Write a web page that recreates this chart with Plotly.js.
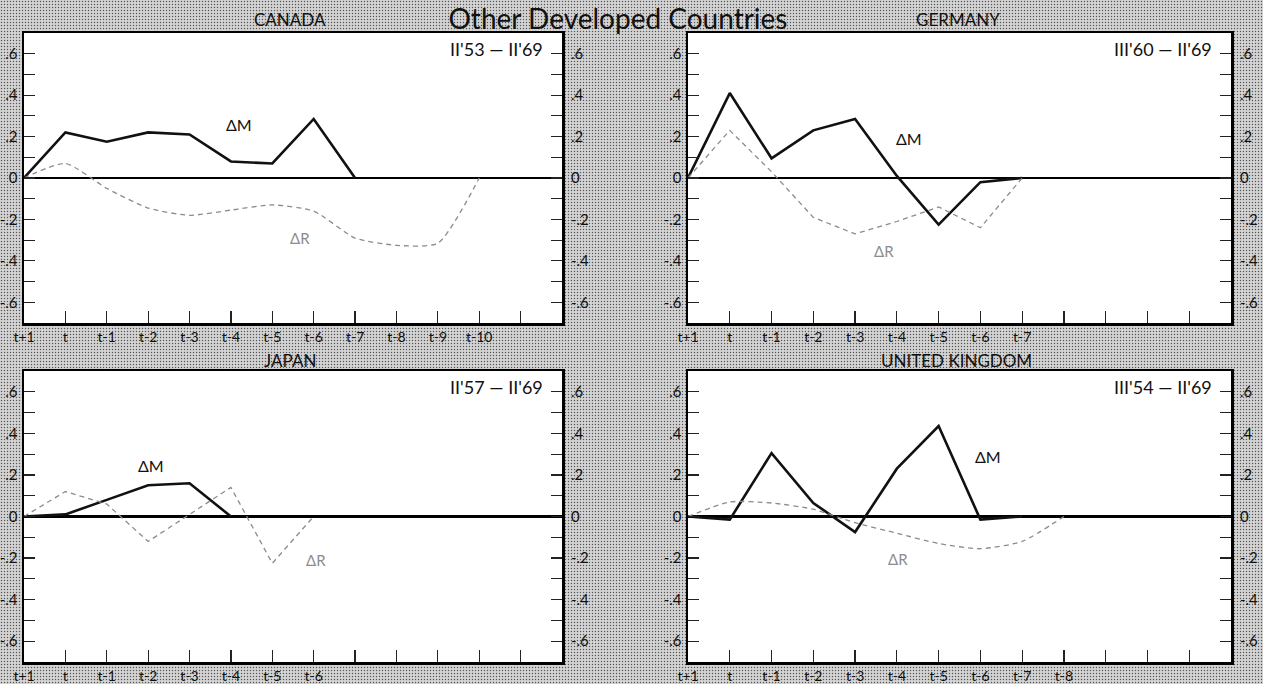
<!DOCTYPE html>
<html><head><meta charset="utf-8">
<script src="https://cdn.plot.ly/plotly-3.0.1.min.js"></script>
<style>
html,body{margin:0;padding:0;}
body{width:1263px;height:684px;overflow:hidden;background-color:#d4d4d4;background-image:radial-gradient(circle,#555 0.65px,transparent 1.05px);background-size:3px 3px;}
#chart{width:1263px;height:684px;}
</style></head><body><div id="chart"></div><script>
// ---- data ----
const chartTitle = 'Other Developed Countries';
const countries = ['CANADA', 'GERMANY', 'JAPAN', 'UNITED KINGDOM'];
const periods = ["II'53 — II'69", "III'60 — II'69", "II'57 — II'69", "III'54 — II'69"];
const lagLabels = ['t+1','t','t-1','t-2','t-3','t-4','t-5','t-6','t-7','t-8','t-9','t-10'];
const labelCounts = [12, 9, 8, 10];
const yTickVals = [-0.6, -0.4, -0.2, 0, 0.2, 0.4, 0.6];
const yTickText = ['-.6', '-.4', '-.2', '0', '.2', '.4', '.6'];
const yMinorVals = [-0.5, -0.3, -0.1, 0.1, 0.3, 0.5];

const canadaM  = [0, 0.22, 0.175, 0.22, 0.21, 0.08, 0.07, 0.285, 0];
const canadaR  = [0, 0.07, -0.05, -0.145, -0.18, -0.155, -0.13, -0.16, -0.29, -0.325, -0.315, 0];
const germanyM = [0, 0.41, 0.095, 0.23, 0.285, 0.01, -0.225, -0.02, 0];
const germanyR = [0, 0.23, 0.03, -0.19, -0.27, -0.21, -0.14, -0.24, 0];
const japanM   = [0, 0.01, 0.08, 0.15, 0.16, 0];
const japanR   = [0, 0.12, 0.06, -0.12, 0.01, 0.14, -0.225, 0];
const ukM      = [0, -0.015, 0.305, 0.065, -0.075, 0.23, 0.435, -0.015, 0];
const ukR      = [0, 0.07, 0.065, 0.035, -0.03, -0.08, -0.13, -0.155, -0.12, 0];

const seriesM = [canadaM, germanyM, japanM, ukM];
const seriesR = [canadaR, germanyR, japanR, ukR];
const rSmooth = [true, false, false, true];
// label positions (x index, value)
const labelMpos = [[5.2, 0.256], [5.3, 0.19], [3.07, 0.243], [7.19, 0.287]];
const labelRpos = [[6.67, -0.29], [4.7, -0.35], [7.05, -0.21], [5.03, -0.205]];

// ---- layout geometry ----
const W = 1263, H = 684;
const xDomains = [[24/W, 562/W], [688/W, 1231/W], [24/W, 562/W], [688/W, 1231/W]];
const yDomains = [[(H-323)/H, (H-33)/H], [(H-323)/H, (H-33)/H], [(H-662)/H, (H-371)/H], [(H-662)/H, (H-371)/H]];
const titleXY = [[290, 20], [958, 20], [290, 360], [956, 360]];
const FONT = 'Lato, "Open Sans", sans-serif';

const range = n => Array.from({length: n}, (_, i) => i);

const traces = [];
const layout = {
  width: W, height: H,
  margin: {l: 0, r: 0, t: 0, b: 0},
  paper_bgcolor: 'rgba(0,0,0,0)',
  plot_bgcolor: '#ffffff',
  showlegend: false,
  font: {family: FONT, color: '#111'},
  title: {text: chartTitle, x: 618/W, xanchor: 'center', y: 1 - 19/H, yanchor: 'middle',
          font: {family: FONT, size: 28, color: '#111'}},
  annotations: []
};

for (let p = 0; p < 4; p++) {
  const n = p + 1;
  const xa = 'x' + n, ya = 'y' + n, yr = 'y' + (n + 4);
  const xKey = 'xaxis' + n, yKey = 'yaxis' + n, yrKey = 'yaxis' + (n + 4);
  const ticks = range(13);
  const tickText = ticks.map(i => (i < labelCounts[p] ? lagLabels[i] : ''));
  layout[xKey] = {
    domain: xDomains[p], anchor: ya, range: [0, 13],
    tickmode: 'array', tickvals: ticks, ticktext: tickText,
    ticks: 'inside', ticklen: 12, tickwidth: 1.2, tickcolor: '#222',
    showline: true, mirror: true, linecolor: '#000', linewidth: 2.5,
    showgrid: false, zeroline: false, fixedrange: true,
    tickfont: {family: FONT, size: 14, color: '#111'}, ticklabelstandoff: 0
  };
  const yCommon = {
    domain: yDomains[p], range: [-0.7, 0.7],
    tickmode: 'array', tickvals: yTickVals, ticktext: yTickText,
    ticks: 'inside', ticklen: 11, tickwidth: 1.2, tickcolor: '#222',
    minor: {tickmode: 'array', tickvals: yMinorVals, ticks: 'inside', ticklen: 11, tickwidth: 1.2, tickcolor: '#222', showgrid: false},
    showgrid: false, fixedrange: true,
    tickfont: {family: FONT, size: 15, color: '#111'}
  };
  layout[yKey] = Object.assign({}, yCommon, {
    anchor: xa, side: 'left', ticklabelstandoff: 1,
    showline: true, mirror: true, linecolor: '#000', linewidth: 2.5,
    zeroline: true, zerolinecolor: '#000', zerolinewidth: 2.2
  });
  layout[yrKey] = Object.assign({}, yCommon, {
    anchor: xa, overlaying: ya, side: 'right', ticklabelstandoff: 8,
    showline: false, zeroline: false
  });

  const m = seriesM[p], r = seriesR[p];
  traces.push({
    type: 'scatter', mode: 'lines', xaxis: xa, yaxis: yr,
    x: range(r.length), y: r, hoverinfo: 'skip',
    line: {color: '#8c8c8c', width: 1.3, dash: '5px,4px', shape: rSmooth[p] ? 'spline' : 'linear', smoothing: 0.6}
  });
  traces.push({
    type: 'scatter', mode: 'lines', xaxis: xa, yaxis: ya,
    x: range(m.length), y: m, hoverinfo: 'skip',
    line: {color: '#111', width: 2.6}
  });

  layout.annotations.push({
    xref: 'paper', yref: 'paper', x: titleXY[p][0]/W, y: 1 - titleXY[p][1]/H,
    xanchor: 'center', yanchor: 'middle', showarrow: false,
    text: countries[p], font: {family: FONT, size: 17, color: '#111'}
  });
  layout.annotations.push({
    xref: xa + ' domain', yref: ya + ' domain', x: 0.968, y: 0.99,
    xanchor: 'right', yanchor: 'top', showarrow: false,
    text: periods[p], font: {family: FONT, size: 18, color: '#111'}
  });
  layout.annotations.push({
    xref: xa, yref: ya, x: labelMpos[p][0], y: labelMpos[p][1],
    xanchor: 'center', yanchor: 'middle', showarrow: false,
    text: 'ΔM', font: {family: FONT, size: 16, color: '#111'}
  });
  layout.annotations.push({
    xref: xa, yref: ya, x: labelRpos[p][0], y: labelRpos[p][1],
    xanchor: 'center', yanchor: 'middle', showarrow: false,
    text: 'ΔR', font: {family: FONT, size: 15, color: '#8c8c8c'}
  });
}

Plotly.newPlot('chart', traces, layout, {staticPlot: true, displayModeBar: false});
</script></body></html>
